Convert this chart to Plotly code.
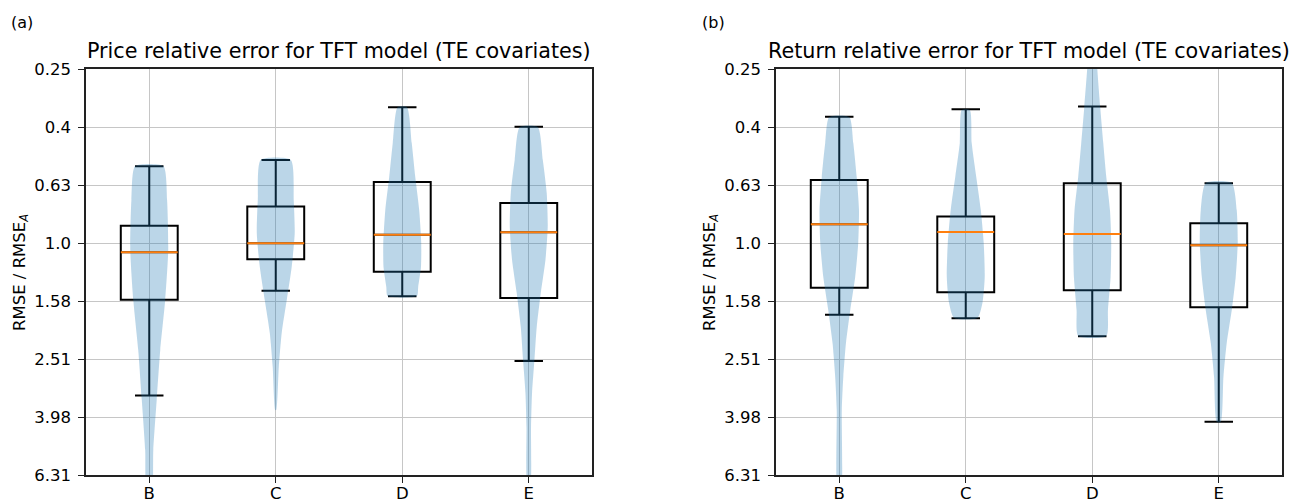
import plotly.graph_objects as go

# ---------------------------------------------------------------- data
categories = ["B", "C", "D", "E"]
positions = [1, 2, 3, 4]

tick_exponents = [-0.6, -0.4, -0.2, 0.0, 0.2, 0.4, 0.6, 0.8]
tick_labels = ["0.25", "0.4", "0.63", "1.0", "1.58", "2.51", "3.98", "6.31"]

# Box statistics (RMSE / RMSE_A) per category
price_whisker_low = [0.544, 0.517, 0.340, 0.397]
price_q1 = [0.872, 0.749, 0.616, 0.728]
price_median = [1.077, 1.002, 0.936, 0.919]
price_q3 = [1.568, 1.138, 1.256, 1.548]
price_whisker_high = [3.353, 1.460, 1.527, 2.552]

return_whisker_low = [0.367, 0.346, 0.338, 0.6225]
return_q1 = [0.607, 0.811, 0.6225, 0.855]
return_median = [0.862, 0.9165, 0.931, 1.018]
return_q3 = [1.426, 1.479, 1.456, 1.666]
return_whisker_high = [1.767, 1.818, 2.098, 4.132]

# Violin density profiles: levels (ratio) and half-widths (category units)
price_violin_levels = [
    [0.543, 0.711, 1.057, 1.573, 2.339, 3.478, 5.173, 7.5],
    [0.517, 0.711, 0.924, 1.21, 1.573, 2.043, 2.677, 3.767],
    [0.340, 0.452, 0.592, 0.769, 1.0, 1.21, 1.418, 1.524],
    [0.398, 0.517, 0.672, 0.881, 1.144, 1.487, 1.949, 2.532, 3.29, 4.31, 7.0],
]
price_violin_halfwidth = [
    [0.111, 0.141, 0.150, 0.126, 0.087, 0.059, 0.032, 0.018],
    [0.119, 0.142, 0.150, 0.126, 0.087, 0.047, 0.024, 0.004],
    [0.037, 0.075, 0.103, 0.134, 0.150, 0.148, 0.126, 0.116],
    [0.071, 0.111, 0.142, 0.150, 0.132, 0.095, 0.063, 0.045, 0.026, 0.018, 0.010],
]
return_violin_levels = [
    [0.368, 0.452, 0.592, 0.769, 1.0, 1.31, 1.702, 2.213, 2.897, 3.767, 7.5],
    [0.348, 0.452, 0.592, 0.769, 1.0, 1.31, 1.61, 1.814],
    [0.2, 0.251, 0.34, 0.452, 0.592, 0.769, 1.0, 1.31, 1.702, 2.093],
    [0.621, 0.769, 1.0, 1.31, 1.702, 2.213, 2.897, 4.142],
]
return_violin_halfwidth = [
    [0.079, 0.111, 0.138, 0.156, 0.150, 0.126, 0.087, 0.053, 0.032, 0.020, 0.012],
    [0.032, 0.047, 0.083, 0.119, 0.142, 0.150, 0.132, 0.092],
    [0.030, 0.040, 0.063, 0.087, 0.111, 0.140, 0.150, 0.145, 0.124, 0.111],
    [0.103, 0.142, 0.150, 0.134, 0.103, 0.063, 0.037, 0.016],
]

titles = [
    "Price relative error for TFT model (TE covariates)",
    "Return relative error for TFT model (TE covariates)",
]
panel_tags = ["(a)", "(b)"]

# ---------------------------------------------------------------- style
W, H = 1304, 500
FONT = "DejaVu Sans"
VIOLIN_FILL = "rgba(31,119,180,0.3)"
MEDIAN_COLOR = "#ff7f0e"
BOX_WIDTH = 0.45

x_domains = [[86 / W, 592 / W], [776 / W, 1282 / W]]
y_domain = [25 / H, 431 / H]

fig = go.Figure()

panels = [
    (price_violin_levels, price_violin_halfwidth, price_whisker_low, price_q1,
     price_median, price_q3, price_whisker_high),
    (return_violin_levels, return_violin_halfwidth, return_whisker_low, return_q1,
     return_median, return_q3, return_whisker_high),
]

for p, (vlev, vhw, wlo, q1, med, q3, whi) in enumerate(panels):
    xa = "x" if p == 0 else "x2"
    ya = "y" if p == 0 else "y2"

    # violins as filled outlines
    for pos, lev, hw in zip(positions, vlev, vhw):
        xs = [pos + w for w in hw] + [pos - w for w in reversed(hw)]
        ys = list(lev) + list(reversed(lev))
        fig.add_trace(go.Scatter(
            x=xs + [xs[0]], y=ys + [ys[0]], xaxis=xa, yaxis=ya,
            mode="lines", fill="toself", fillcolor=VIOLIN_FILL,
            line=dict(width=0, shape="spline", smoothing=0.6),
            hoverinfo="skip", showlegend=False,
        ))

    # box + whiskers
    fig.add_trace(go.Box(
        x=positions, q1=q1, median=med, q3=q3,
        lowerfence=wlo, upperfence=whi,
        xaxis=xa, yaxis=ya, width=BOX_WIDTH, whiskerwidth=0.5,
        fillcolor="rgba(0,0,0,0)", line=dict(color="black", width=2),
        boxpoints=False, showlegend=False,
    ))

    # orange median segments
    mx, my = [], []
    for pos, m in zip(positions, med):
        mx += [pos - BOX_WIDTH / 2, pos + BOX_WIDTH / 2, None]
        my += [m, m, None]
    fig.add_trace(go.Scatter(
        x=mx, y=my, xaxis=xa, yaxis=ya, mode="lines",
        line=dict(color=MEDIAN_COLOR, width=2), hoverinfo="skip",
        showlegend=False,
    ))

axis_common = dict(
    showline=True, mirror=True, linecolor="#222222", linewidth=1.5,
    ticks="outside", ticklen=6, tickwidth=1.3, tickcolor="#222222",
    showgrid=True, gridcolor="#c6c6c6", gridwidth=1.3, zeroline=False,
    automargin=False,
    tickfont=dict(family=FONT, size=16.5, color="black"),
)

for p in range(2):
    sx = "" if p == 0 else "2"
    fig.update_layout(**{
        f"xaxis{sx}": dict(
            axis_common, domain=x_domains[p], range=[0.5, 4.5],
            tickmode="array", tickvals=positions, ticktext=categories,
            anchor=f"y{sx}", ticklabelstandoff=-4,
        ),
        f"yaxis{sx}": dict(
            axis_common, domain=y_domain, type="log",
            range=[tick_exponents[-1], tick_exponents[0]],
            tickmode="array", tickvals=[10 ** e for e in tick_exponents],
            ticktext=tick_labels, anchor=f"x{sx}", ticklabelstandoff=4,
        ),
    })

annotations = []
tag_x = [22, 714]
label_x = [20, 710]
for p in range(2):
    x0, x1 = x_domains[p]
    annotations.append(dict(
        text=titles[p], x=(x0 + x1) / 2, y=1 - 51 / H, xref="paper", yref="paper",
        xanchor="center", yanchor="middle", showarrow=False,
        font=dict(family=FONT, size=20.7, color="black"),
    ))
    annotations.append(dict(
        text=panel_tags[p], x=tag_x[p] / W, y=1 - 22.5 / H,
        xref="paper", yref="paper", xanchor="center", yanchor="middle",
        showarrow=False, font=dict(family=FONT, size=16, color="black"),
    ))
    annotations.append(dict(
        text="RMSE / RMSE<sub><i>A</i></sub>", x=label_x[p] / W,
        y=1 - 273 / H, xref="paper", yref="paper", xanchor="center",
        yanchor="middle", textangle=-90, showarrow=False,
        font=dict(family=FONT, size=16.5, color="black"),
    ))

fig.update_layout(
    width=W, height=H, autosize=False,
    margin=dict(l=0, r=0, t=0, b=0, pad=0),
    paper_bgcolor="white", plot_bgcolor="white",
    annotations=annotations, showlegend=False,
)

fig.write_html("out.html")
